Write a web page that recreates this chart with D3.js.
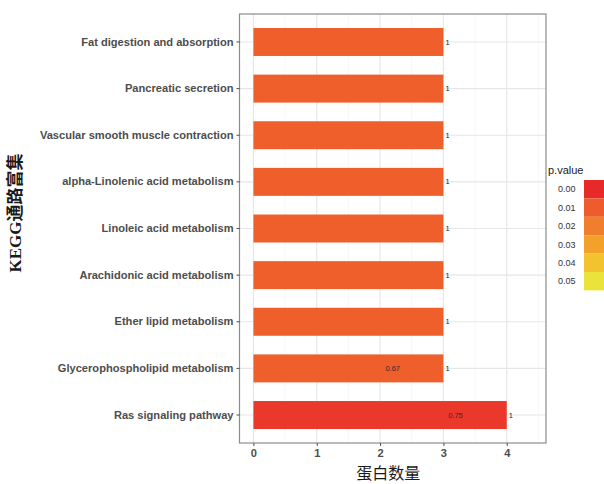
<!DOCTYPE html>
<html>
<head>
<meta charset="utf-8">
<script src="https://cdn.jsdelivr.net/npm/d3@7"></script>
<style>
  html, body { margin: 0; padding: 0; background: #fff; }
  svg { display: block; }
</style>
</head>
<body>
<svg id="chart" width="604" height="484"></svg>
<script>
// KEGG pathways, top to bottom
const pathways = [
  "Fat digestion and absorption",
  "Pancreatic secretion",
  "Vascular smooth muscle contraction",
  "alpha-Linolenic acid metabolism",
  "Linoleic acid metabolism",
  "Arachidonic acid metabolism",
  "Ether lipid metabolism",
  "Glycerophospholipid metabolism",
  "Ras signaling pathway"
];
// protein counts per pathway
const counts = [3, 3, 3, 3, 3, 3, 3, 3, 4];
// enrichment p-values per pathway
const pValues = [0.011, 0.011, 0.011, 0.011, 0.011, 0.011, 0.011, 0.011, 0.003];
// label printed just past each bar end
const endLabels = ["1", "1", "1", "1", "1", "1", "1", "1", "1"];
// extra labels drawn inside some bars: [pathway, text, x position]
const innerLabels = [
  ["Glycerophospholipid metabolism", "0.67", 2.2],
  ["Ras signaling pathway", "0.75", 3.19]
];
const xTicks = [0, 1, 2, 3, 4];
const legendValues = [0.00, 0.01, 0.02, 0.03, 0.04, 0.05];
const legendLabels = ["0.00", "0.01", "0.02", "0.03", "0.04", "0.05"];
const legendColors = ["#E8292A", "#EE5B2C", "#F07E2C", "#F4A12C", "#F2C22F", "#EAE33B"];

const svg = d3.select("#chart");
const panel = { left: 239.5, right: 546, top: 14, bottom: 443 };

const x = d3.scaleLinear().domain([-0.22, 4.62]).range([panel.left, panel.right]);
const y = d3.scaleBand().domain(pathways).range([panel.top, panel.bottom])
  .paddingInner(0).paddingOuter(0.1);
const barH = y.bandwidth() * 0.6;
const color = d3.scaleLinear().domain(legendValues).range(legendColors).clamp(true);

const g = svg.append("g");

// panel grid
const minor = d3.range(-0.0, 4.6, 0.5).filter(v => v % 1 !== 0);
g.selectAll(".minor").data(minor).enter().append("line")
  .attr("x1", d => x(d)).attr("x2", d => x(d))
  .attr("y1", panel.top).attr("y2", panel.bottom)
  .attr("stroke", "#F2F2F2").attr("stroke-width", 0.6);
g.selectAll(".vmajor").data(xTicks).enter().append("line")
  .attr("x1", d => x(d)).attr("x2", d => x(d))
  .attr("y1", panel.top).attr("y2", panel.bottom)
  .attr("stroke", "#E6E6E6").attr("stroke-width", 1.1);
g.selectAll(".hmajor").data(pathways).enter().append("line")
  .attr("x1", panel.left).attr("x2", panel.right)
  .attr("y1", d => y(d) + y.bandwidth() / 2).attr("y2", d => y(d) + y.bandwidth() / 2)
  .attr("stroke", "#E6E6E6").attr("stroke-width", 1.1);

// bars
g.selectAll(".bar").data(pathways).enter().append("rect")
  .attr("x", x(0))
  .attr("y", d => y(d) + (y.bandwidth() - barH) / 2)
  .attr("width", (d, i) => x(counts[i]) - x(0))
  .attr("height", barH)
  .attr("fill", (d, i) => color(pValues[i]));

// end labels
g.selectAll(".endlab").data(pathways).enter().append("text")
  .attr("x", (d, i) => x(counts[i]) + 2)
  .attr("y", d => y(d) + y.bandwidth() / 2)
  .attr("dy", "0.35em")
  .attr("font-family", "Liberation Sans, Arial, sans-serif")
  .attr("font-size", 7.5).attr("fill", "#1a1a1a")
  .text((d, i) => endLabels[i]);

// inner labels
g.selectAll(".innerlab").data(innerLabels).enter().append("text")
  .attr("x", d => x(d[2]))
  .attr("y", d => y(d[0]) + y.bandwidth() / 2)
  .attr("dy", "0.35em").attr("text-anchor", "middle")
  .attr("font-family", "Liberation Sans, Arial, sans-serif")
  .attr("font-size", 7.5).attr("fill", "#3a2a2a")
  .text(d => d[1]);

// panel border
g.append("rect")
  .attr("x", panel.left).attr("y", panel.top)
  .attr("width", panel.right - panel.left).attr("height", panel.bottom - panel.top)
  .attr("fill", "none").attr("stroke", "#8C8C8C").attr("stroke-width", 1.2);

// axes
const xAxis = g.append("g")
  .attr("transform", `translate(0,${panel.bottom})`)
  .call(d3.axisBottom(x).tickValues(xTicks).tickSize(3).tickPadding(3).tickFormat(d3.format("d")));
const yAxis = g.append("g")
  .attr("transform", `translate(${panel.left},0)`)
  .call(d3.axisLeft(y).tickSize(3).tickPadding(3));
[xAxis, yAxis].forEach(a => {
  a.select(".domain").remove();
  a.selectAll(".tick line").attr("stroke", "#4D4D4D").attr("stroke-width", 1);
  a.selectAll(".tick text")
    .attr("font-family", "Liberation Sans, Arial, sans-serif")
    .attr("font-weight", "bold").attr("font-size", 11.1).attr("fill", "#4D4D4D");
});

// axis titles
svg.append("text")
  .attr("x", x(2.13)).attr("y", 479)
  .attr("text-anchor", "middle")
  .attr("font-family", "Noto Sans CJK SC, sans-serif")
  .attr("font-size", 16).attr("fill", "#1a1a1a")
  .text("蛋白数量");
svg.append("text")
  .attr("transform", "translate(21,213) rotate(-90)")
  .attr("text-anchor", "middle")
  .attr("font-family", "Liberation Serif, Noto Sans CJK SC, serif")
  .attr("font-weight", "bold")
  .attr("font-size", 17).attr("fill", "#1a1a1a")
  .text("KEGG通路富集");

// legend
const leg = svg.append("g").attr("transform", "translate(548,0)");
leg.append("text")
  .attr("x", 0).attr("y", 174)
  .attr("font-family", "Liberation Sans, Arial, sans-serif")
  .attr("font-size", 11).attr("fill", "#1a1a1a")
  .text("p.value");
const keyH = 18.4;
leg.selectAll(".key").data(legendValues).enter().append("rect")
  .attr("x", 36).attr("y", (d, i) => 180 + i * keyH)
  .attr("width", 20).attr("height", keyH)
  .attr("fill", (d, i) => legendColors[i]);
leg.selectAll(".klab").data(legendLabels).enter().append("text")
  .attr("x", 10).attr("y", (d, i) => 180 + i * keyH + keyH / 2)
  .attr("dy", "0.35em")
  .attr("font-family", "Liberation Sans, Arial, sans-serif")
  .attr("font-size", 9).attr("fill", "#333")
  .text(d => d);
</script>
</body>
</html>
